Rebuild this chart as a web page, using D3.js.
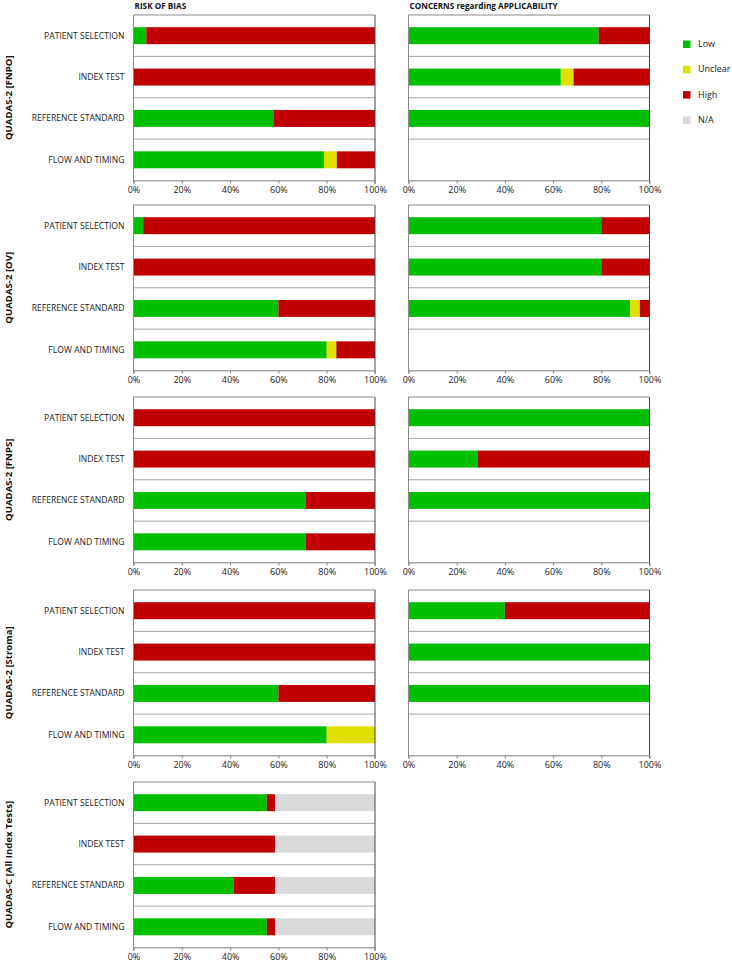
<!DOCTYPE html>
<html><head><meta charset="utf-8">
<script src="https://cdn.jsdelivr.net/npm/d3@7"></script>
<style>
body{margin:0;background:#fff;}
text{font-family:"Open Sans",sans-serif;}
</style></head>
<body><svg id="c" width="732" height="963"></svg>
<script>
const rowLabels = ["PATIENT SELECTION","INDEX TEST","REFERENCE STANDARD","FLOW AND TIMING"];
const groupLabels = ["QUADAS-2 [FNPO]","QUADAS-2 [OV]","QUADAS-2 [FNPS]","QUADAS-2 [Stroma]","QUADAS-C [All Index Tests]"];
const levels = ["Low","Unclear","High","N/A"];
const levelColors = ["#00BE00","#E0E000","#C00000","#D9D9D9"];
const tickValues = [0,20,40,60,80,100];

// Risk of bias (% of studies), per panel, per domain
const riskLow     = [[5.3,0,57.9,78.9],[4,0,60,80],[0,0,71.4,71.4],[0,0,60,80],[55.2,0,41.4,55.2]];
const riskUnclear = [[0,0,0,5.3],[0,0,0,4],[0,0,0,0],[0,0,0,20],[0,0,0,0]];
const riskHigh    = [[94.7,100,42.1,15.8],[96,100,40,16],[100,100,28.6,28.6],[100,100,40,0],[3.4,58.6,17.2,3.4]];
const riskNA      = [[0,0,0,0],[0,0,0,0],[0,0,0,0],[0,0,0,0],[41.4,41.4,41.4,41.4]];

// Concerns regarding applicability (first three domains), panels 1-4
const appLow     = [[78.9,63.2,100],[80,80,92],[100,28.6,100],[40,100,100]];
const appUnclear = [[0,5.3,0],[0,0,4],[0,0,0],[0,0,0]];
const appHigh    = [[21.1,31.5,0],[20,20,4],[0,71.4,0],[60,0,0]];
const appNA      = [[0,0,0],[0,0,0],[0,0,0],[0,0,0]];

const svg = d3.select("#c");
const panelTops = [15, 205, 397, 590, 782];
const panelH = 165.5;
const leftX = [133.5, 375];
const rightX = [408.5, 649.5];
const color = d3.scaleOrdinal(levels, levelColors);

function drawPanel(xr, top, low, unc, high, na, labels, showLabels){
  const g = svg.append("g");
  const x = d3.scaleLinear([0,100], xr);
  const y = d3.scaleBand(rowLabels, [top, top+panelH]).paddingInner(0.59).paddingOuter(0.295);
  const step = y.step();
  for(let i=0;i<=4;i++){
    const yy = top + i*step;
    g.append("line").attr("x1",xr[0]).attr("x2",xr[1]).attr("y1",yy).attr("y2",yy)
      .attr("stroke", i===0 ? "#8a8a8a" : "#a6a6a6").attr("stroke-width",1);
  }
  const rows = labels.map((lab,i)=>({cat:lab, "Low":low[i], "Unclear":unc[i], "High":high[i], "N/A":na[i]}));
  const series = d3.stack().keys(levels)(rows);
  g.selectAll("g.s").data(series).join("g").attr("fill", d=>color(d.key))
    .selectAll("rect").data(d=>d).join("rect")
    .attr("x", d=>x(d[0])).attr("width", d=>Math.max(0, x(d[1])-x(d[0])))
    .attr("y", d=>y(d.data.cat)).attr("height", y.bandwidth());
  g.append("line").attr("x1",xr[0]).attr("x2",xr[0]).attr("y1",top).attr("y2",top+panelH+3).attr("stroke","#8a8a8a");
  g.append("line").attr("x1",xr[1]).attr("x2",xr[1]).attr("y1",top).attr("y2",top+panelH+3).attr("stroke","#444");
  const ax = g.append("g").attr("transform",`translate(0,${top+panelH})`)
    .call(d3.axisBottom(x).tickValues(tickValues).tickFormat(d=>d+"%").tickSize(3).tickPadding(3));
  ax.select(".domain").attr("stroke","#a6a6a6");
  ax.selectAll(".tick line").attr("stroke","#8a8a8a");
  ax.selectAll("text").attr("font-family","Open Sans").attr("font-size","9px").attr("fill","#222");
  if(showLabels){
    g.selectAll("text.cat").data(rowLabels).join("text")
      .attr("x", xr[0]-9).attr("y", d=>y(d)+y.bandwidth()/2).attr("dy","0.35em")
      .attr("text-anchor","end").attr("font-size","8.6px").attr("fill","#222").text(d=>d);
  }
}

groupLabels.forEach((gl,p)=>{
  const top = panelTops[p];
  drawPanel(leftX, top, riskLow[p], riskUnclear[p], riskHigh[p], riskNA[p], rowLabels, true);
  if(p < 4){
    drawPanel(rightX, top, appLow[p], appUnclear[p], appHigh[p], appNA[p], rowLabels.slice(0,3), false);
  }
  svg.append("text").attr("transform",`translate(12,${top+panelH/2}) rotate(-90)`)
    .attr("text-anchor","middle").attr("font-weight","bold").attr("font-size","9.6px").attr("fill","#111").text(gl);
});

svg.append("text").attr("x",134.5).attr("y",9).attr("font-weight","bold").attr("font-size","8.2px").attr("fill","#111").text("RISK OF BIAS");
svg.append("text").attr("x",409.5).attr("y",9).attr("font-weight","bold").attr("font-size","8.2px").attr("fill","#111").text("CONCERNS regarding APPLICABILITY");

const lg = svg.append("g");
levels.forEach((l,i)=>{
  const yy = 44 + i*25.3;
  lg.append("rect").attr("x",683).attr("y",yy-3.5).attr("width",7.5).attr("height",7.5).attr("fill",color(l));
  lg.append("text").attr("x",698).attr("y",yy).attr("dy","0.35em").attr("font-size","9px").attr("fill","#222").text(l);
});
</script></body></html>
